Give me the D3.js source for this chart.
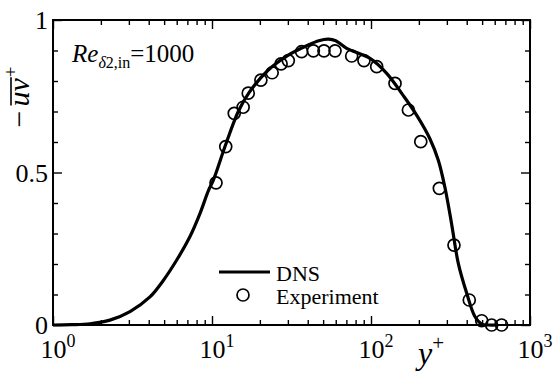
<!DOCTYPE html>
<html>
<head>
<meta charset="utf-8">
<script src="https://cdn.jsdelivr.net/npm/d3@7"></script>
<style>
  html, body { margin: 0; padding: 0; background: #fff; }
  svg text { font-family: "Liberation Serif", "DejaVu Serif", "Times New Roman", serif; }
</style>
</head>
<body>
<svg id="chart" width="556" height="376"></svg>
<script>
// Reynolds shear stress profile, -uv+ against y+ (log scale)
const dnsYPlus = [1, 1.3, 1.71, 2.28, 3.05, 4.07, 4.94, 6.0, 7.27, 8.41, 9.48, 10.2, 12.07, 14.63, 17.1,
                  22.6, 30.2, 40.3, 47, 53.9, 60, 70.3, 98.6, 125.5, 159.6, 193.6, 235, 265, 292, 321,
                  354, 400, 451, 497, 550, 620];
const dnsUv = [0, 0.001, 0.004, 0.016, 0.044, 0.092, 0.146, 0.213, 0.290, 0.366, 0.440, 0.475, 0.585, 0.700, 0.762,
               0.836, 0.885, 0.918, 0.932, 0.937, 0.932, 0.907, 0.874, 0.825, 0.752, 0.688, 0.610, 0.540, 0.450, 0.333,
               0.202, 0.104, 0.027, 0.003, 0, 0];

const expYPlus = [10.6, 12.2, 13.8, 15.7, 16.9, 20.3, 23.9, 27.2, 30.2, 36.6, 43.4, 50.6, 59.4, 75.6, 90.3,
                  108.6, 141.6, 171.9, 205.6, 269, 332.6, 415, 497, 574, 663];
const expUv = [0.466, 0.585, 0.694, 0.714, 0.760, 0.803, 0.827, 0.856, 0.867, 0.896, 0.899, 0.899, 0.899, 0.882, 0.867,
               0.847, 0.792, 0.705, 0.601, 0.448, 0.262, 0.082, 0.014, 0.0, 0.0];

const xMajorTicks = [1, 10, 100, 1000];
const xTickExponents = ["0", "1", "2", "3"];
const yMajorTicks = [0, 0.5, 1];
const yTickLabels = ["0", "0.5", "1"];
const yMinorTicks = [0.1, 0.2, 0.3, 0.4, 0.6, 0.7, 0.8, 0.9];
const legendLabels = ["DNS", "Experiment"];

const svg = d3.select("#chart");
const x = d3.scaleLog().domain([1, 1000]).range([53, 530]);
const y = d3.scaleLinear().domain([0, 1]).range([325, 20]);

const xMinorTicks = [];
[1, 10, 100].forEach(d => { for (let k = 2; k <= 9; k++) xMinorTicks.push(d * k); });

// inward ticks on all four sides
function styleAxis(g) {
  g.select(".domain").remove();
  g.selectAll(".tick line").attr("stroke", "#000").attr("stroke-width", 1.4);
}
const axes = svg.append("g");
axes.append("g").attr("transform", "translate(0,325)")
  .call(d3.axisBottom(x).tickValues(xMajorTicks).tickSize(-9).tickFormat("")).call(styleAxis);
axes.append("g").attr("transform", "translate(0,325)")
  .call(d3.axisBottom(x).tickValues(xMinorTicks).tickSize(-5).tickFormat("")).call(styleAxis);
axes.append("g").attr("transform", "translate(0,20)")
  .call(d3.axisTop(x).tickValues(xMajorTicks).tickSize(-9).tickFormat("")).call(styleAxis);
axes.append("g").attr("transform", "translate(0,20)")
  .call(d3.axisTop(x).tickValues(xMinorTicks).tickSize(-5).tickFormat("")).call(styleAxis);

const yLeft = axes.append("g").attr("transform", "translate(53,0)")
  .call(d3.axisLeft(y).tickValues(yMajorTicks).tickSize(-9).tickPadding(5)
    .tickFormat((d, i) => yTickLabels[i]));
yLeft.call(styleAxis);
yLeft.attr("font-family", null).attr("font-size", null);
yLeft.selectAll("text").attr("font-size", 26).attr("fill", "#000").attr("dy", "0.34em");
axes.append("g").attr("transform", "translate(53,0)")
  .call(d3.axisLeft(y).tickValues(yMinorTicks).tickSize(-5).tickFormat("")).call(styleAxis);
axes.append("g").attr("transform", "translate(530,0)")
  .call(d3.axisRight(y).tickValues(yMajorTicks).tickSize(-9).tickFormat("")).call(styleAxis);
axes.append("g").attr("transform", "translate(530,0)")
  .call(d3.axisRight(y).tickValues(yMinorTicks).tickSize(-5).tickFormat("")).call(styleAxis);

// frame
svg.append("rect")
  .attr("x", x(1)).attr("y", y(1))
  .attr("width", x(1000) - x(1)).attr("height", y(0) - y(1))
  .attr("fill", "none").attr("stroke", "#000").attr("stroke-width", 2);

// power-of-ten labels
const xLab = svg.append("g").selectAll("text").data(xMajorTicks).join("text")
  .attr("x", d => x(d) + 5).attr("y", 358)
  .attr("text-anchor", "middle").attr("font-size", 26).attr("fill", "#000");
xLab.append("tspan").text("10");
xLab.append("tspan").attr("font-size", 18).attr("dy", -11).text((d, i) => xTickExponents[i]);

// DNS curve
const dns = dnsYPlus.map((d, i) => [d, dnsUv[i]]);
svg.append("path").datum(dns)
  .attr("fill", "none").attr("stroke", "#000").attr("stroke-width", 3.2)
  .attr("stroke-linejoin", "round")
  .attr("d", d3.line().x(d => x(d[0])).y(d => y(d[1])).curve(d3.curveCatmullRom.alpha(0.5)));

// experimental points
const exp = expYPlus.map((d, i) => [d, expUv[i]]);
svg.append("g").selectAll("circle").data(exp).join("circle")
  .attr("cx", d => x(d[0])).attr("cy", d => y(d[1])).attr("r", 6)
  .attr("fill", "none").attr("stroke", "#000").attr("stroke-width", 1.7);

// y title: -uv with an overbar, superscript +
const yTitleG = svg.append("g").attr("transform", "translate(29,97) rotate(-90)");
const yTitle = yTitleG.append("text").attr("text-anchor", "middle")
  .attr("font-size", 30).attr("fill", "#000");
yTitle.append("tspan").text("\u2212");
yTitle.append("tspan").attr("dx", 4).attr("font-style", "italic").text("uv");
yTitle.append("tspan").attr("font-size", 19).attr("dy", -12).attr("dx", 1).text("+");
{
  const node = yTitle.node();
  const x0 = node.getStartPositionOfChar(1).x;
  const x1 = node.getEndPositionOfChar(2).x;
  yTitleG.append("line").attr("x1", x0 + 1).attr("x2", x1 + 1)
    .attr("y1", -18).attr("y2", -18).attr("stroke", "#000").attr("stroke-width", 1.6);
}

const xTitle = svg.append("text").attr("x", 418).attr("y", 364).attr("font-size", 32).attr("fill", "#000");
xTitle.append("tspan").attr("font-style", "italic").text("y");
xTitle.append("tspan").attr("font-size", 21).attr("dy", -14).text("+");

// Reynolds number annotation
const re = svg.append("text").attr("x", 72).attr("y", 62).attr("font-size", 25).attr("fill", "#000");
re.append("tspan").attr("font-style", "italic").text("Re");
re.append("tspan").attr("font-size", 16).attr("dy", 6).attr("font-style", "italic").text("\u03b4");
re.append("tspan").attr("font-size", 16).text("2,in");
re.append("tspan").attr("dy", -6).text("=1000");

// legend
const leg = svg.append("g");
leg.append("line").attr("x1", 219).attr("x2", 270).attr("y1", 272).attr("y2", 272)
  .attr("stroke", "#000").attr("stroke-width", 3.2);
leg.append("circle").attr("cx", 243).attr("cy", 295).attr("r", 6)
  .attr("fill", "none").attr("stroke", "#000").attr("stroke-width", 1.7);
leg.selectAll("text.lbl").data(legendLabels).join("text").attr("class", "lbl")
  .attr("x", 276).attr("y", (d, i) => 281 + i * 23)
  .attr("font-size", 22).attr("fill", "#000").text(d => d);
</script>
</body>
</html>
